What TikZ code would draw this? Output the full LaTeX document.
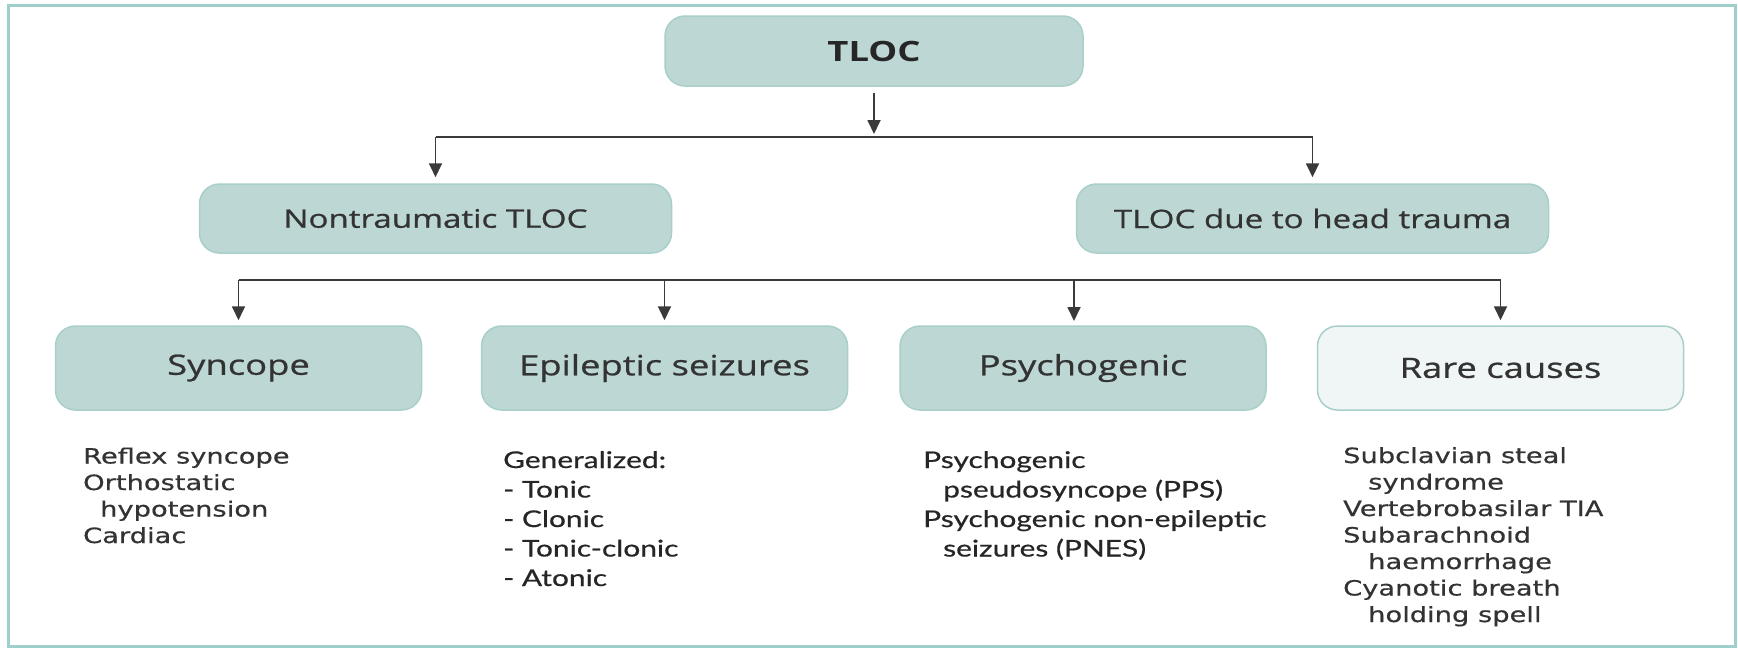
\documentclass[tikz,border=0pt]{standalone}
\usepackage{fontspec}
\usetikzlibrary{arrows.meta}
\newfontfamily\boxfont[FakeStretch=1.3, FakeBold=0.8]{Open Sans}
\newfontfamily\boxfontb[FakeStretch=1.3]{Open Sans Bold}
\newfontfamily\dvfont[FakeStretch=1.3, FakeBold=0.5]{DejaVu Sans}
\newfontfamily\latofont[FakeStretch=1.3, FakeBold=0.6]{Lato}
\definecolor{boxfill}{HTML}{BDD8D4}
\definecolor{boxline}{HTML}{A9CFCA}
\definecolor{rarefill}{HTML}{EFF6F5}
\definecolor{framecol}{HTML}{9FCFCB}
\definecolor{txt}{HTML}{333333}
\definecolor{txtb}{HTML}{262626}
\definecolor{conncol}{HTML}{3A3A3A}
\begin{document}
\begin{tikzpicture}[x=1pt,y=-1pt,
  box/.style={draw=boxline, line width=1.5pt, fill=boxfill, rounded corners=20pt, text=txt, inner sep=0pt},
  topbox/.style={box, minimum width=418pt, minimum height=70pt, font=\boxfontb\fontsize{28}{30}\selectfont, text=txtb},
  midbox/.style={box, minimum width=472pt, minimum height=69pt, font=\boxfont\fontsize{25.5}{28}\selectfont},
  lowbox/.style={box, minimum width=366pt, minimum height=84pt, font=\boxfont\fontsize{28}{30}\selectfont},
  rarebox/.style={lowbox, fill=rarefill},
  dvlist/.style={anchor=base west, inner sep=0pt, text=txt, font=\dvfont\fontsize{21}{25}\selectfont},
  latolist/.style={anchor=base west, inner sep=0pt, text=txtb, font=\latofont\fontsize{23}{27}\selectfont},
  conn/.style={draw=conncol, line width=1.8pt},
  arr/.style={conn, -{Triangle[length=14pt,width=13pt]}}
]
\useasboundingbox (0,0) rectangle (1738,649);
\fill[white] (0,0) rectangle (1738,649);
\draw[framecol, line width=3pt] (8,5) rectangle (1735,646);

\node[topbox] (tloc) at (874,51) {TLOC};
\node[midbox] (nt) at (435.5,218.5) {Nontraumatic TLOC};
\node[midbox] (ht) at (1312.5,218.5) {TLOC due to head trauma};
\node[lowbox] (syn) at (238.5,368) {Syncope};
\node[lowbox] (epi) at (664.5,368) {Epileptic seizures};
\node[lowbox] (psy) at (1083,368) {Psychogenic};
\node[rarebox] (rare) at (1500.5,368) {Rare causes};

\coordinate (j1) at (874,137);
\coordinate (j2) at (874,280);
\coordinate (psyin) at (1074,326);

\draw[arr, shorten <=6pt, shorten >=3pt] (tloc.south) -- (j1);
\draw[conn] (j1 -| nt.north) -- (j1 -| ht.north);
\draw[arr, shorten >=6pt] (j1 -| nt.north) -- (nt.north);
\draw[arr, shorten >=6pt] (j1 -| ht.north) -- (ht.north);

\draw[conn] (j2 -| syn.north) -- (j2 -| rare.north);
\draw[arr, shorten >=5pt] (j2 -| syn.north) -- (syn.north);
\draw[arr, shorten >=5pt] (j2 -| epi.north) -- (epi.north);
\draw[arr, shorten >=5pt] (j2 -| psyin) -- (psyin);
\draw[arr, shorten >=5pt] (j2 -| rare.north) -- (rare.north);

\foreach \t [count=\i] in {Reflex syncope, Orthostatic, \hspace*{17pt}hypotension, Cardiac}
  \node[dvlist] (synl\i) at (83, 437+26.5*\i) {\t};
\foreach \t [count=\i] in {Generalized:, - Tonic, - Clonic, - Tonic-clonic, - Atonic}
  \node[latolist] (epil\i) at (503, 438.5+29.5*\i) {\t};
\foreach \t [count=\i] in {Psychogenic, \hspace*{20pt}pseudosyncope (PPS), Psychogenic non-epileptic, \hspace*{20pt}seizures (PNES)}
  \node[latolist] (psyl\i) at (923, 438.5+29.5*\i) {\t};
\foreach \t [count=\i] in {Subclavian steal, \hspace*{25pt}syndrome, Vertebrobasilar TIA, Subarachnoid, \hspace*{25pt}haemorrhage, Cyanotic breath, \hspace*{25pt}holding spell}
  \node[dvlist] (rarel\i) at (1343, 436.5+26.5*\i) {\t};
\end{tikzpicture}
\end{document}
